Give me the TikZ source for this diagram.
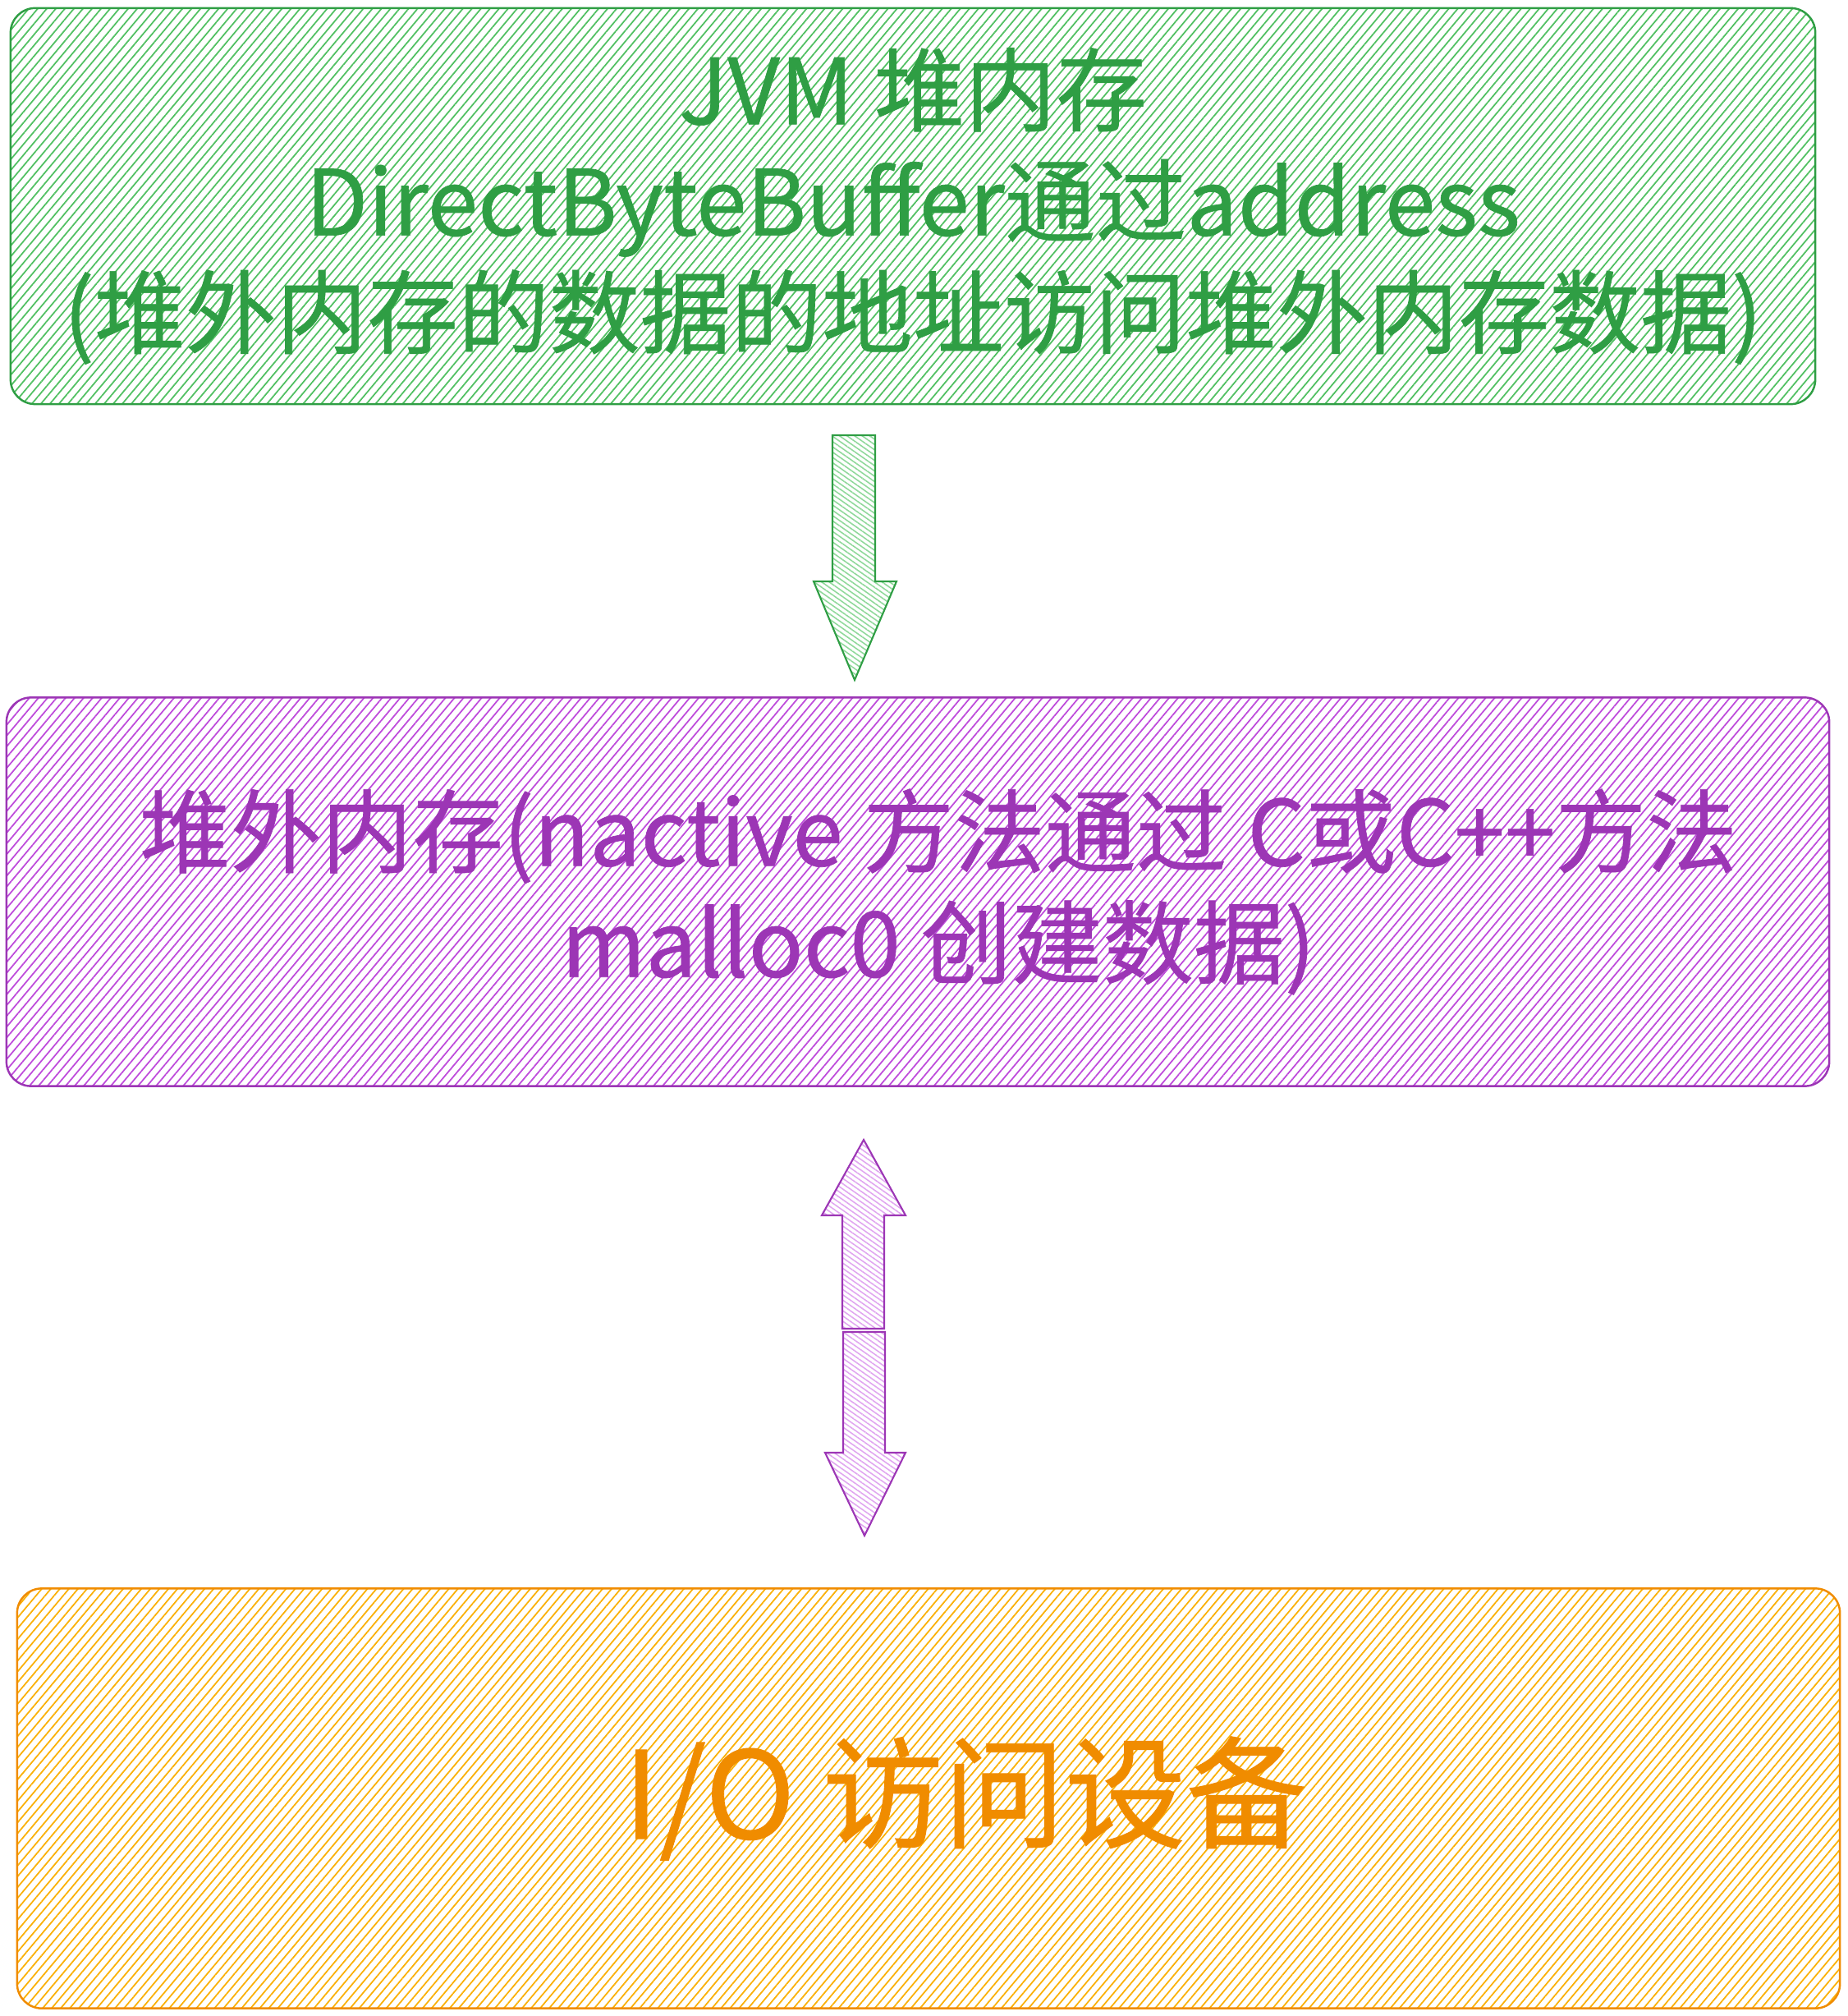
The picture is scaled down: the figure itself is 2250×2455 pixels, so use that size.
\documentclass[tikz,border=0pt]{standalone}
\usepackage{fontspec}
\setmainfont{Noto Sans CJK SC}[FakeBold=0.6]
\usepackage{tikz}
\usetikzlibrary{positioning,patterns.meta}
\definecolor{gline}{HTML}{2F9E44}
\definecolor{ghatch}{HTML}{51C062}
\definecolor{garrowhatch}{HTML}{8FD89A}
\definecolor{pline}{HTML}{9C36B5}
\definecolor{phatch}{HTML}{BE4BDB}
\definecolor{parrowhatch}{HTML}{E0A6F0}
\definecolor{oline}{HTML}{F08C00}
\definecolor{ohatch}{HTML}{FAB005}

\begin{document}
\begin{tikzpicture}[
  x=0.01cm, y=-0.01cm,
  box/.style={draw, rounded corners=0.3cm, line width=0.7pt, align=center,
              inner sep=0pt, font=\fontsize{31.5}{38.5}\selectfont},
  jvmbox/.style={box, draw=gline, text=gline, pattern color=ghatch,
                 pattern={Lines[angle=50,distance=2.4pt,line width=0.5pt]},
                 minimum width=21.97cm, minimum height=4.82cm},
  offheapbox/.style={box, draw=pline, text=pline, pattern color=phatch,
                 pattern={Lines[angle=50,distance=2.4pt,line width=0.5pt]},
                 minimum width=22.19cm, minimum height=4.73cm},
  iobox/.style={box, draw=oline, text=oline, pattern color=ohatch,
                 pattern={Lines[angle=50,distance=2.4pt,line width=0.5pt]},
                 minimum width=22.19cm, minimum height=5.11cm,
                 font=\fontsize{42}{50}\selectfont},
  garrow/.style={draw=gline, line width=0.6pt, pattern color=garrowhatch,
                 pattern={Lines[angle=-35,distance=1.5pt,line width=0.45pt]}},
  parrow/.style={draw=pline, line width=0.6pt, pattern color=parrowhatch,
                 pattern={Lines[angle=-35,distance=1.5pt,line width=0.45pt]}}
]
\useasboundingbox (0,0) rectangle (2250,2455);

% Boxes
\node[jvmbox] (jvm) at (1112,251)
  {JVM 堆内存\\DirectByteBuffer通过address\\(堆外内存的数据的地址访问堆外内存数据)};
\node[offheapbox] (offheap) at (1118,1086)
  {\hspace*{0.5cm}堆外内存(nactive 方法通过 C或C++方法\\\hspace*{0.5cm}malloc0 创建数据)};
\node[iobox] (io) at (1131,2190) {\hspace*{0.9cm}\raisebox{-0.12cm}{I/O 访问设备}};

% Block arrows
\coordinate (gtail) at (1040,530);
\coordinate (gtip)  at (1041,828);
\draw[garrow] (gtail) ++(-26,0) -- ++(52,0) -- ++(0,178) -- ++(26,0)
  -- (gtip) -- ++(-50,-120) -- ++(23,0) -- cycle;

\coordinate (uptail) at (1052,1618);
\coordinate (uptip)  at (1052,1388);
\draw[parrow] (uptail) ++(-26,0) -- ++(0,-138) -- ++(-25,0) -- (uptip)
  -- ++(51,92) -- ++(-26,0) -- ++(0,138) -- cycle;

\coordinate (dntail) at (1053,1622);
\coordinate (dntip)  at (1053,1870);
\draw[parrow] (dntail) ++(-26,0) -- ++(51,0) -- ++(0,147) -- ++(25,0)
  -- (dntip) -- ++(-48,-101) -- ++(22,0) -- cycle;
\end{tikzpicture}
\end{document}
